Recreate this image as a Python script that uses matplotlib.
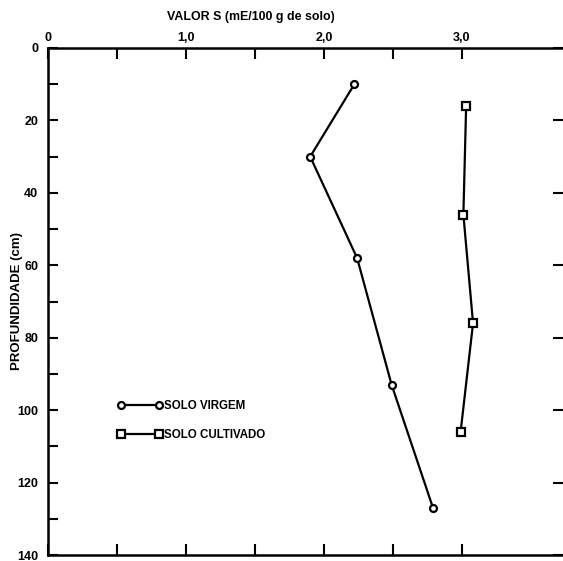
import matplotlib
matplotlib.use("Agg")
import matplotlib.pyplot as plt
from matplotlib.ticker import MultipleLocator, FixedLocator

# Data (VALOR S in mE/100 g de solo, depth in cm)
virgem_s = [2.22, 1.90, 2.24, 2.49, 2.79]
virgem_depth = [10, 30, 58, 93, 127]
cult_s = [3.03, 3.01, 3.08, 2.99]
cult_depth = [16, 46, 76, 106]

x_major = [0, 1.0, 2.0, 3.0]
x_labels = ["0", "1,0", "2,0", "3,0"]
x_minor = [0.5, 1.5, 2.5]
y_major = [0, 20, 40, 60, 80, 100, 120, 140]

plt.rcParams['font.family'] = ['Liberation Sans', 'DejaVu Sans']
plt.rcParams['font.weight'] = 'bold'

W, H = 563, 561
fig = plt.figure(figsize=(W / 100, H / 100), dpi=100)
left_px, right_px, top_px, bot_px = 48, 563, 48, 555
ax = fig.add_axes([left_px / W, 1 - bot_px / H, (right_px - left_px) / W, (bot_px - top_px) / H])

ax.plot(virgem_s, virgem_depth, color='black', lw=1.6, marker='o', ms=5,
        mfc='white', mec='black', mew=1.6, label='SOLO VIRGEM')
ax.plot(cult_s, cult_depth, color='black', lw=1.6, marker='s', ms=5.5,
        mfc='white', mec='black', mew=1.6, label='SOLO CULTIVADO')

ax.set_xlim(0, (right_px - left_px) / 138)
ax.set_ylim(140, 0)

ax.xaxis.set_major_locator(FixedLocator(x_major))
ax.set_xticklabels(x_labels)
ax.xaxis.set_minor_locator(FixedLocator(x_minor))
ax.yaxis.set_major_locator(FixedLocator(y_major))
ax.yaxis.set_minor_locator(MultipleLocator(10))

ax.tick_params(axis='x', which='both', top=True, bottom=True, labeltop=True,
               labelbottom=False, direction='in', length=8, width=1.5,
               labelsize=9, pad=3)
ax.tick_params(axis='y', which='major', left=True, right=True, direction='in',
               length=7, width=1.5, labelsize=9, pad=7)
ax.tick_params(axis='y', which='minor', left=True, right=False, direction='in',
               length=7, width=1.5)
for lab in ax.get_xticklabels() + ax.get_yticklabels():
    lab.set_fontweight('bold')

for s in ['left', 'top', 'bottom']:
    ax.spines[s].set_linewidth(1.8)
ax.spines['right'].set_visible(False)

ax.xaxis.set_label_position('top')
ax.set_xlabel('VALOR S (mE/100 g de solo)', fontsize=8.9, fontweight='bold', labelpad=6)
ax.xaxis.set_label_coords(0.394, 1.055)
ax.set_ylabel('PROFUNDIDADE (cm)', fontsize=9.5, fontweight='bold')
ax.yaxis.set_label_coords(-25 / 515, 0.5)

leg = ax.legend(loc='upper left', bbox_to_anchor=(0.115, 0.326), frameon=False,
                handlelength=3.9, handletextpad=0.1, labelspacing=1.5,
                numpoints=2, prop={'size': 8.3, 'weight': 'bold'})

fig.savefig('out.png', dpi=100)
